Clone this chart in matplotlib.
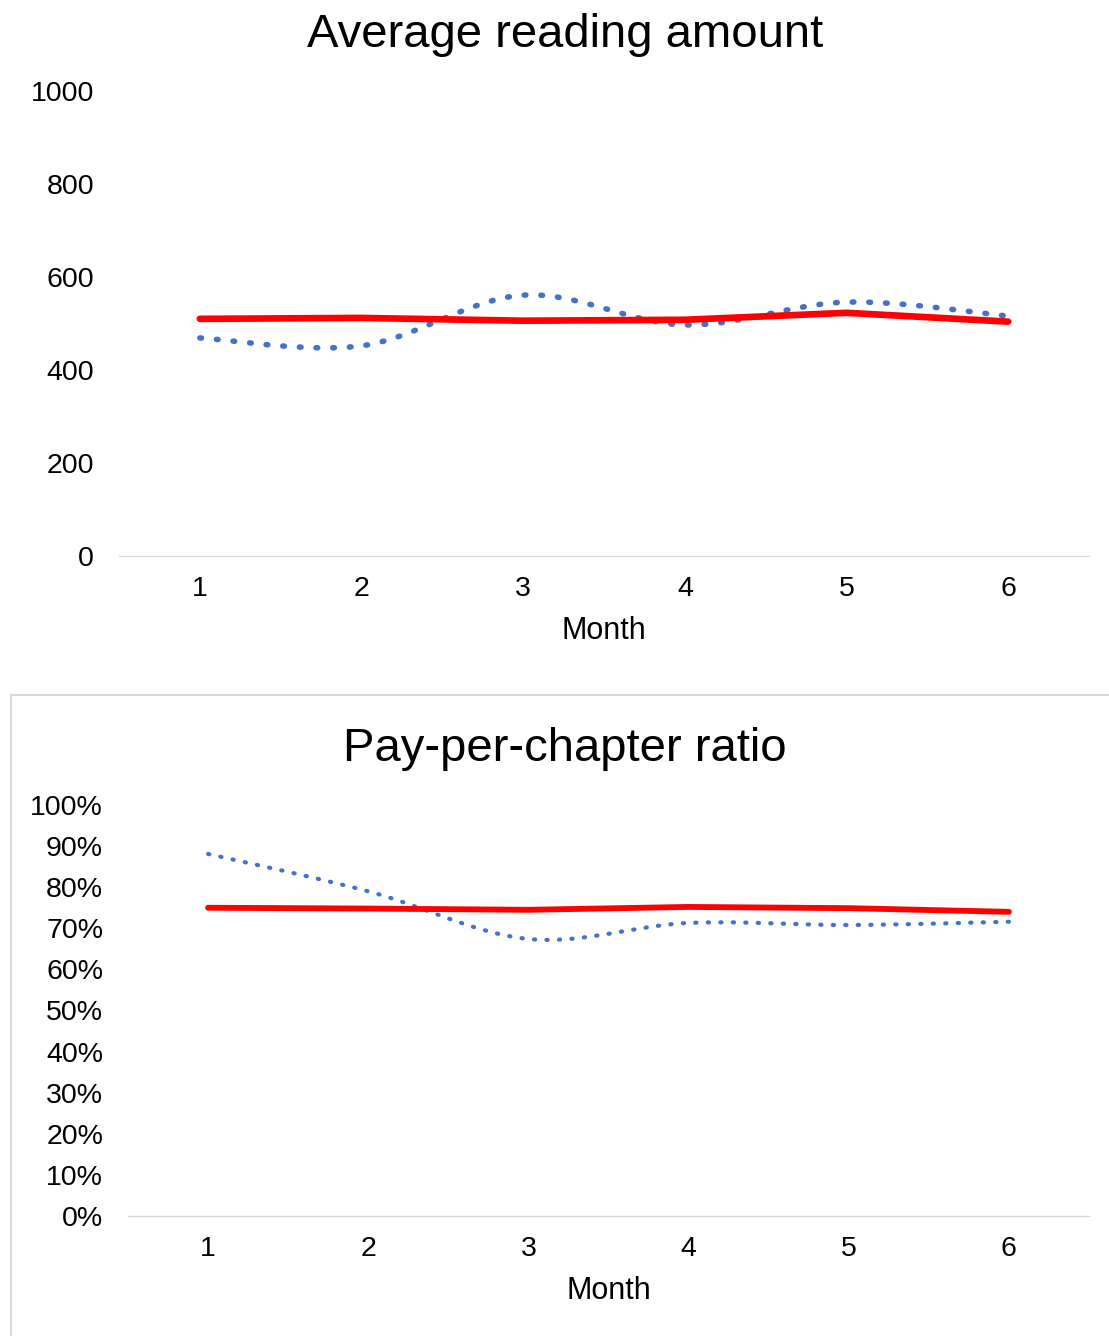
import numpy as np
import matplotlib.pyplot as plt
from matplotlib.patches import Rectangle
from matplotlib.ticker import PercentFormatter

plt.rcParams["font.family"] = ["Liberation Sans", "DejaVu Sans"]

months = [1, 2, 3, 4, 5, 6]
reading_dotted = [469, 452, 561, 497, 546, 516]
reading_solid = [510, 512, 506, 508, 523, 504]
ratio_dotted = [0.881, 0.790, 0.674, 0.713, 0.708, 0.716]
ratio_solid = [0.750, 0.748, 0.745, 0.752, 0.749, 0.740]

BLUE = "#4472C4"
RED = "#FF0000"
GRID = "#D9D9D9"
W, H = 1109, 1336


def smooth(x, y, n=40):
    # office-style smoothed line: cubic bezier, control points from neighbours / 6
    x = np.asarray(x, float)
    y = np.asarray(y, float)
    px = np.concatenate([[x[0]], x, [x[-1]]])
    py = np.concatenate([[y[0]], y, [y[-1]]])
    t = np.linspace(0, 1, n)[:, None]
    xs, ys = [], []
    for i in range(len(x) - 1):
        p0 = np.array([px[i + 1], py[i + 1]])
        p3 = np.array([px[i + 2], py[i + 2]])
        p1 = p0 + (np.array([px[i + 2], py[i + 2]]) - np.array([px[i], py[i]])) / 6
        p2 = p3 - (np.array([px[i + 3], py[i + 3]]) - np.array([px[i + 1], py[i + 1]])) / 6
        b = (1 - t) ** 3 * p0 + 3 * (1 - t) ** 2 * t * p1 + 3 * (1 - t) * t ** 2 * p2 + t ** 3 * p3
        xs.append(b[:, 0])
        ys.append(b[:, 1])
    return np.concatenate(xs), np.concatenate(ys)


def px_axes(fig, left, top, right, bottom):
    return fig.add_axes([left / W, 1 - bottom / H, (right - left) / W, (bottom - top) / H])


def style(ax):
    for s in ("top", "right", "left"):
        ax.spines[s].set_visible(False)
    ax.spines["bottom"].set_color(GRID)
    ax.spines["bottom"].set_linewidth(1.0)
    ax.tick_params(length=0, labelsize=20.5, colors="black")
    ax.tick_params(axis="y", pad=18)
    ax.tick_params(axis="x", pad=14.5)
    ax.set_xlim(0.5, 6.5)
    ax.set_xticks(months)
    ax.set_xlabel("Month", fontsize=22, labelpad=10)


fig = plt.figure(figsize=(W / 100, H / 100), dpi=100)

# frame around the lower chart
fig.patches.append(Rectangle((11 / W, -0.1), 1.2, 1 - 695 / H + 0.1, transform=fig.transFigure,
                             fill=False, edgecolor=GRID, linewidth=1.5))

ax1 = px_axes(fig, 119, 91, 1089, 556)
style(ax1)
ax1.set_ylim(0, 1000)
ax1.set_yticks(range(0, 1001, 200))
sx, sy = smooth(months, reading_dotted)
ax1.plot(sx, sy, color=BLUE, linewidth=4, dashes=(0.3, 2.7), dash_capstyle="round", clip_on=False)
ax1.plot(months, reading_solid, color=RED, linewidth=4.8, solid_capstyle="round", solid_joinstyle="round")
fig.text(565 / W, 1 - 35 / H, "Average reading amount", fontsize=34, ha="center", va="center")

ax2 = px_axes(fig, 128, 805, 1089, 1216)
style(ax2)
ax2.set_ylim(0, 1)
ax2.set_yticks(np.arange(0, 1.01, 0.1))
ax2.yaxis.set_major_formatter(PercentFormatter(1.0, decimals=0))
sx, sy = smooth(months, ratio_dotted)
ax2.plot(sx, sy, color=BLUE, linewidth=3, dashes=(0.3, 2.7), dash_capstyle="round", clip_on=False)
ax2.plot(months, ratio_solid, color=RED, linewidth=4.2, solid_capstyle="round", solid_joinstyle="round")
fig.text(565 / W, 1 - 749 / H, "Pay-per-chapter ratio", fontsize=34, ha="center", va="center")

fig.savefig("out.png", dpi=100)
